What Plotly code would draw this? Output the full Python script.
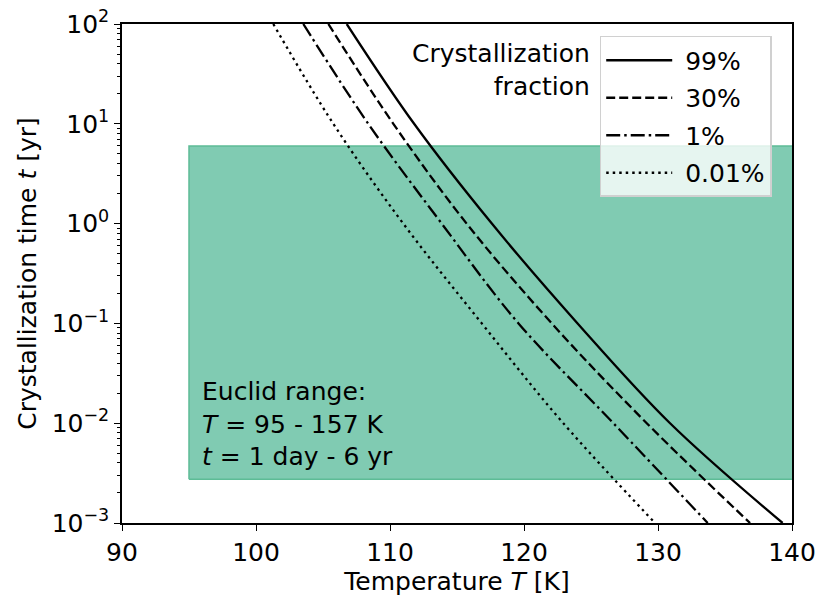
import plotly.graph_objects as go

# ---------------------------------------------------------------------------
# Datos: temperatura T (K) donde cada curva cruza
# cada década del tiempo de cristalización t (años)
# ---------------------------------------------------------------------------
fracciones = ["99%", "30%", "1%", "0.01%"]
estilos = ["solid", "9px,4px", "14px,4px,2.5px,4px", "2.5px,4px"]

t_decadas = [100, 10, 1, 0.1, 0.01, 0.001]

T_99 = [106.77, 111.8, 117.6, 124.0, 130.9, 139.3]
T_30 = [105.4, 110.25, 115.72, 122.07, 129.16, 136.87]
T_1 = [103.53, 108.38, 113.86, 119.59, 126.67, 133.71]
T_001 = [101.29, 105.77, 110.99, 116.85, 122.93, 129.78]

# Rango de Euclid
T_euclid = [95, 157]
t_euclid = [1 / 365, 6]

FUENTE = "DejaVu Sans"
TAM = 25

fig = go.Figure()

# Zona verde (rango de Euclid)
fig.add_trace(go.Scatter(
    x=[T_euclid[0], T_euclid[1], T_euclid[1], T_euclid[0], T_euclid[0]],
    y=[t_euclid[0], t_euclid[0], t_euclid[1], t_euclid[1], t_euclid[0]],
    fill="toself", fillcolor="#80cbb2",
    line=dict(color="#5dbc96", width=1.5),
    mode="lines", showlegend=False, hoverinfo="skip"
))

series = [T_99, T_30, T_1, T_001]
for i, T in enumerate(series):
    fig.add_trace(go.Scatter(
        x=T, y=t_decadas, mode="lines", name="\u00a0" + fracciones[i],
        line=dict(color="black", width=2.3, dash=estilos[i], shape="spline", smoothing=1),
        legendgroup=fracciones[i]
    ))

decadas = [-3, -2, -1, 0, 1, 2]
etiquetas_y = ["10<sup>−3</sup>", "10<sup>−2</sup>", "10<sup>−1</sup>",
               "10<sup>0</sup>", "10<sup>1</sup>", "10<sup>2</sup>"]
menores = [m * 10 ** d for d in decadas[:-1] for m in range(2, 10)]

fig.update_xaxes(
    range=[90, 140], tickvals=[90, 100, 110, 120, 130, 140],
    showline=True, mirror=True, linecolor="black", linewidth=1.5,
    ticks="outside", ticklen=6, tickwidth=1.3, tickcolor="black",
    showgrid=False, zeroline=False, automargin=False,
    tickfont=dict(family=FUENTE, size=TAM, color="black"),
    title=dict(text="Temperature <i>T</i> [K]", standoff=3,
               font=dict(family=FUENTE, size=TAM, color="black"))
)
fig.update_yaxes(
    type="log", range=[-3, 2],
    tickvals=[10 ** d for d in decadas], ticktext=etiquetas_y,
    showline=True, mirror=True, linecolor="black", linewidth=1.5,
    ticks="outside", ticklen=6, tickwidth=1.3, tickcolor="black",
    minor=dict(tickvals=menores, ticks="outside", ticklen=3.5, tickwidth=1, tickcolor="black"),
    showgrid=False, zeroline=False, automargin=False, ticklabeloverflow="allow",
    tickfont=dict(family=FUENTE, size=TAM, color="black"),
    title=dict(text="Crystallization time <i>t</i> [yr]", standoff=8,
               font=dict(family=FUENTE, size=TAM, color="black"))
)

fig.add_annotation(
    text="Euclid range:<br><i>T</i> = 95 - 157 K<br><i>t</i> = 1 day - 6 yr",
    xref="paper", yref="paper", x=0.117, y=0.198,
    xanchor="left", yanchor="middle", align="left", showarrow=False,
    font=dict(family=FUENTE, size=TAM, color="black")
)
fig.add_annotation(
    text="Crystallization<br>fraction",
    xref="paper", yref="paper", x=0.702, y=0.973,
    xanchor="right", yanchor="top", align="right", showarrow=False,
    font=dict(family=FUENTE, size=TAM, color="black")
)

fig.update_layout(
    width=830, height=609,
    margin=dict(l=122, r=38, t=24, b=86),
    paper_bgcolor="white", plot_bgcolor="white",
    font=dict(family=FUENTE, size=TAM, color="black"),
    legend=dict(
        x=0.713, y=0.976, xanchor="left", yanchor="top",
        bgcolor="rgba(255,255,255,0.8)", bordercolor="#d0d0d0", borderwidth=1.5,
        tracegroupgap=2, itemwidth=66,
        font=dict(family=FUENTE, size=TAM, color="black")
    )
)

# quitar el margen por defecto del <body> para que la figura quede en (0, 0)
fig.write_html("out.html", config={"displayModeBar": False},
               post_script="document.body.style.margin='0';")
